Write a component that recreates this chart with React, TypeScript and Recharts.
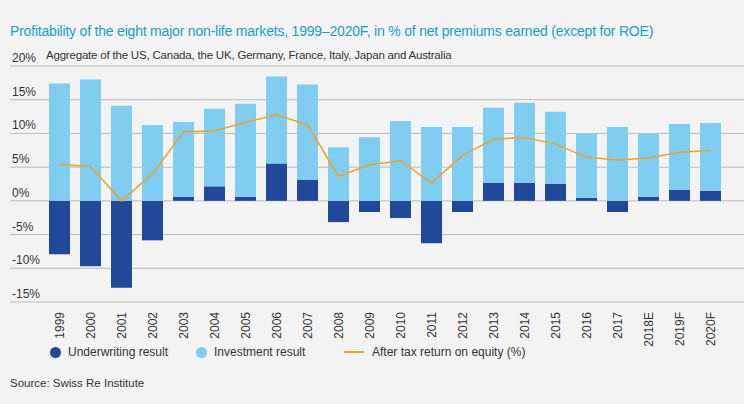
import { Bar, ComposedChart, CartesianGrid, Line, XAxis, YAxis } from 'recharts';

const YEARS = ['1999', '2000', '2001', '2002', '2003', '2004', '2005', '2006', '2007', '2008', '2009', '2010', '2011', '2012', '2013', '2014', '2015', '2016', '2017', '2018E', '2019F', '2020F'];
const UNDERWRITING = [-7.9, -9.7, -12.9, -5.85, 0.6, 2.15, 0.6, 5.55, 3.15, -3.15, -1.65, -2.55, -6.3, -1.65, 2.7, 2.7, 2.55, 0.45, -1.65, 0.6, 1.65, 1.5];
const BAR_TOP = [17.4, 18.0, 14.1, 11.25, 11.7, 13.65, 14.4, 18.45, 17.25, 7.95, 9.45, 11.85, 10.95, 10.95, 13.8, 14.55, 13.2, 10.0, 10.95, 10.0, 11.4, 11.55];
const ROE = [5.4, 5.1, 0, 4.0, 10.25, 10.35, 11.65, 12.75, 11.25, 3.65, 5.35, 5.95, 2.65, 6.75, 9.15, 9.4, 8.45, 6.45, 6.05, 6.35, 7.2, 7.45];
const Y_TICKS = [-15, -10, -5, 0, 5, 10, 15, 20];

const DARK = '#22489a';
const LIGHT = '#80cdf2';
const ORANGE = '#f0a22e';
const FONT = '"Liberation Sans", Arial, sans-serif';

const data = YEARS.map((y, i) => ({
  year: y,
  uw: UNDERWRITING[i],
  inv: +(BAR_TOP[i] - Math.max(UNDERWRITING[i], 0)).toFixed(2),
  roe: ROE[i],
}));

const YTick = ({ y, payload }: any) => (
  <text x={12} y={y - 4} fontSize={12} fill="#333" fontFamily={FONT}>
    {payload.value}%
  </text>
);

const XTick = ({ x, y, payload }: any) => (
  <text x={x} y={y} transform={`rotate(-90 ${x} ${y})`} dy={4} dx={-2} textAnchor="end" fontSize={12} fill="#333" fontFamily={FONT}>
    {payload.value}
  </text>
);

export default function App() {
  return (
    <div style={{ position: 'fixed', left: 0, top: 0, width: 744, height: 404, background: '#f3f3f3', fontFamily: FONT }}>
      <div style={{ position: 'absolute', left: 10, top: 23, fontSize: 14, color: '#1d9cc4', letterSpacing: -0.2 }}>
        Profitability of the eight major non-life markets, 1999–2020F, in % of net premiums earned (except for ROE)
      </div>
      <ComposedChart
        width={744}
        height={404}
        data={data}
        stackOffset="sign"
        margin={{ top: 66, right: 0, bottom: 72, left: 0 }}
        barCategoryGap={5}
      >
        <CartesianGrid vertical={false} stroke="#bbb" />
        <XAxis dataKey="year" axisLine={false} tickLine={false} tick={<XTick />} interval={0} height={30} padding={{ left: 34, right: 18 }} />
        <YAxis width={10} domain={[-15, 20]} ticks={Y_TICKS} axisLine={false} tickLine={false} tick={<YTick />} />
        <Bar dataKey="uw" stackId="a" fill={DARK} isAnimationActive={false} />
        <Bar dataKey="inv" stackId="a" fill={LIGHT} isAnimationActive={false} />
        <Line dataKey="roe" stroke={ORANGE} strokeWidth={1.5} dot={false} type="linear" isAnimationActive={false} />
      </ComposedChart>
      <div style={{ position: 'absolute', left: 40, top: 49, fontSize: 11.5, color: '#333', background: '#f3f3f3', padding: '0 6px', letterSpacing: -0.2 }}>
        Aggregate of the US, Canada, the UK, Germany, France, Italy, Japan and Australia
      </div>
      <div style={{ position: 'absolute', top: 345, left: 50, fontSize: 12, color: '#333', display: 'flex', alignItems: 'center' }}>
        <span style={{ width: 11, height: 11, borderRadius: 6, background: DARK, display: 'inline-block', marginRight: 7 }} />
        <span style={{ width: 128 }}>Underwriting result</span>
        <span style={{ width: 11, height: 11, borderRadius: 6, background: LIGHT, display: 'inline-block', marginRight: 7 }} />
        <span style={{ width: 130 }}>Investment result</span>
        <span style={{ width: 20, height: 1.5, background: ORANGE, display: 'inline-block', marginRight: 8 }} />
        <span>After tax return on equity (%)</span>
      </div>
      <div style={{ position: 'absolute', top: 377, left: 10, fontSize: 11.5, color: '#333' }}>Source: Swiss Re Institute</div>
    </div>
  );
}
